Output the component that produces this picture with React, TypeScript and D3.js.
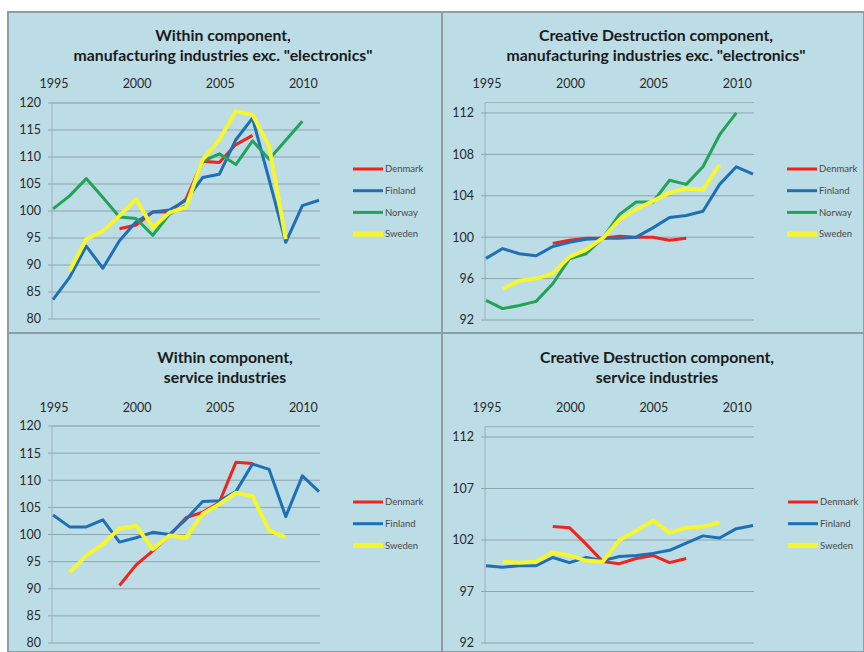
import * as d3 from 'd3';
import React, { useEffect, useRef } from 'react';

const years = d3.range(1995, 2012);
const yearTicks = [1995, 2000, 2005, 2010];

// Within component, manufacturing exc. electronics
const dkWithinMfg = [null, null, null, null, 96.7, 97.4, 99.8, 99.8, 102.2, 109.2, 109.0, 112.3, 114.0, null, null, null, null];
const fiWithinMfg = [83.6, 87.7, 93.5, 89.4, 94.5, 98.0, 99.8, 100.2, 102.0, 106.2, 106.8, 113.2, 117.2, 105.8, 94.2, 101.0, 102.0];
const noWithinMfg = [100.4, 102.8, 106.0, 102.5, 98.9, 98.6, 95.5, 99.4, 101.0, 109.2, 110.6, 108.6, 113.0, 109.6, 113.1, 116.6, null];
const seWithinMfg = [null, 88.9, 94.8, 96.3, 99.1, 102.2, 96.9, 99.7, 100.7, 109.5, 113.2, 118.5, 117.8, 112.0, 94.8, null, null];

// Creative destruction component, manufacturing exc. electronics
const dkCdMfg = [null, null, null, null, 99.4, 99.7, 99.9, 99.9, 100.1, 100.0, 100.0, 99.7, 99.9, null, null, null, null];
const fiCdMfg = [97.95, 98.9, 98.4, 98.2, 99.1, 99.5, 99.8, 99.9, 99.9, 100.0, 100.9, 101.9, 102.1, 102.5, 105.1, 106.8, 106.1];
const noCdMfg = [93.9, 93.1, 93.4, 93.8, 95.5, 97.9, 98.4, 99.9, 102.2, 103.4, 103.4, 105.5, 105.1, 106.8, 109.9, 112.0, null];
const seCdMfg = [null, 95.0, 95.8, 96.0, 96.5, 98.1, 98.8, 99.9, 101.7, 102.7, 103.5, 104.3, 104.7, 104.6, 107.0, null, null];

// Within component, services
const dkWithinSrv = [null, null, null, null, 90.6, 94.4, 97.0, 99.8, 103.1, 104.1, 105.9, 113.3, 113.1, null, null, null, null];
const fiWithinSrv = [103.6, 101.4, 101.4, 102.7, 98.6, 99.4, 100.4, 100.0, 102.8, 106.1, 106.2, 107.9, 113.0, 112.0, 103.3, 110.8, 107.9];
const seWithinSrv = [null, 93.0, 96.1, 98.2, 101.1, 101.6, 97.3, 99.8, 99.4, 103.8, 105.6, 107.7, 107.1, 100.7, 99.5, null, null];

// Creative destruction component, services
const dkCdSrv = [null, null, null, null, 103.3, 103.2, 101.6, 99.9, 99.7, 100.2, 100.5, 99.8, 100.2, null, null, null, null];
const fiCdSrv = [99.5, 99.35, 99.5, 99.5, 100.3, 99.8, 100.3, 100.0, 100.4, 100.5, 100.7, 101.0, 101.7, 102.4, 102.2, 103.1, 103.4];
const seCdSrv = [null, 99.9, 99.8, 99.9, 100.8, 100.5, 100.0, 99.9, 102.0, 102.9, 103.9, 102.7, 103.2, 103.3, 103.7, null, null];

const ticksA = [80, 85, 90, 95, 100, 105, 110, 115, 120];
const ticksB = [92, 96, 100, 104, 108, 112];
const ticksC = [92, 97, 102, 107, 112];

const colors: Record<string, string> = {
  Denmark: '#f0241c',
  Finland: '#1f6fb5',
  Norway: '#22a356',
  Sweden: '#f6f630',
};

const panels = [
  {
    title: ['Within component,', 'manufacturing industries exc. "electronics"'],
    series: [['Denmark', dkWithinMfg], ['Finland', fiWithinMfg], ['Norway', noWithinMfg], ['Sweden', seWithinMfg]],
    yDomain: [80, 120], ticks: ticksA,
    box: [8, 12, 442, 333], x0: 53, x1: 319, yBot: 319, yTop: 103,
    titleX: 223, titleY: 35, yearY: 84, labelX: 41, legX: 353, legY: 169,
  },
  {
    title: ['Creative Destruction component,', 'manufacturing industries exc. "electronics"'],
    series: [['Denmark', dkCdMfg], ['Finland', fiCdMfg], ['Norway', noCdMfg], ['Sweden', seCdMfg]],
    yDomain: [92, 113], ticks: ticksB,
    box: [442, 12, 864, 333], x0: 486, x1: 753, yBot: 320, yTop: 102.6,
    titleX: 656, titleY: 35, yearY: 84, labelX: 474, legX: 787, legY: 169,
  },
  {
    title: ['Within component,', 'service industries'],
    series: [['Denmark', dkWithinSrv], ['Finland', fiWithinSrv], ['Sweden', seWithinSrv]],
    yDomain: [80, 120], ticks: ticksA,
    box: [8, 333, 442, 652], x0: 53, x1: 319, yBot: 643, yTop: 426,
    titleX: 225, titleY: 357, yearY: 408, labelX: 41, legX: 353, legY: 502,
  },
  {
    title: ['Creative Destruction component,', 'service industries'],
    series: [['Denmark', dkCdSrv], ['Finland', fiCdSrv], ['Sweden', seCdSrv]],
    yDomain: [92, 113], ticks: ticksC,
    box: [442, 333, 864, 652], x0: 486, x1: 753, yBot: 643, yTop: 426.7,
    titleX: 657, titleY: 357, yearY: 408, labelX: 474, legX: 788, legY: 502,
  },
];

const font = 'Lato, "Open Sans", sans-serif';

const App = () => {
  const svgRef = useRef(null);

  useEffect(() => {
    const svg = d3.select(svgRef.current);
    svg.selectAll('*').remove();

    svg.append('rect').attr('width', 864).attr('height', 652).attr('fill', '#ffffff');

    panels.forEach((p) => {
      const [bx0, by0, bx1, by1] = p.box;
      const g = svg.append('g');

      g.append('rect')
        .attr('x', bx0)
        .attr('y', by0)
        .attr('width', bx1 - bx0)
        .attr('height', by1 - by0)
        .attr('fill', '#bcdce6')
        .attr('stroke', '#8d9ea5')
        .attr('stroke-width', 2);

      const x = d3.scaleLinear().domain([1995, 2011]).range([p.x0, p.x1]);
      const y = d3.scaleLinear().domain(p.yDomain).range([p.yBot, p.yTop]);

      // title
      p.title.forEach((t, i) => {
        g.append('text')
          .attr('x', p.titleX)
          .attr('y', p.titleY + i * 20)
          .attr('dy', '0.35em')
          .attr('text-anchor', 'middle')
          .attr('font-family', font)
          .attr('font-weight', 'bold')
          .attr('font-size', 15.8)
          .attr('fill', '#1b1b1b')
          .text(t);
      });

      // gridlines
      g.append('g')
        .selectAll('line')
        .data(p.ticks)
        .enter()
        .append('line')
        .attr('x1', x(1995) - 5)
        .attr('x2', x(2011) + 1)
        .attr('y1', (d) => y(d))
        .attr('y2', (d) => y(d))
        .attr('stroke', '#8ea4ad')
        .attr('stroke-width', 1);

      // axes lines
      g.append('line')
        .attr('x1', x(1995) - 1)
        .attr('x2', x(2011) + 1)
        .attr('y1', y(p.yDomain[1]))
        .attr('y2', y(p.yDomain[1]))
        .attr('stroke', '#9fb2ba')
        .attr('stroke-width', 1);
      g.append('line')
        .attr('x1', x(1995) - 1)
        .attr('x2', x(1995) - 1)
        .attr('y1', y(p.yDomain[0]))
        .attr('y2', y(p.yDomain[1]))
        .attr('stroke', '#9fb2ba')
        .attr('stroke-width', 1);

      // y labels
      g.append('g')
        .selectAll('text')
        .data(p.ticks)
        .enter()
        .append('text')
        .attr('x', p.labelX)
        .attr('y', (d) => y(d))
        .attr('dy', '0.35em')
        .attr('text-anchor', 'end')
        .attr('font-family', font)
        .attr('font-size', 12.5)
        .attr('fill', '#2b2b2b')
        .text((d) => d);

      // year labels
      g.append('g')
        .selectAll('text')
        .data(yearTicks)
        .enter()
        .append('text')
        .attr('x', (d) => x(d) + 1)
        .attr('y', p.yearY)
        .attr('dy', '0.35em')
        .attr('text-anchor', 'middle')
        .attr('font-family', font)
        .attr('font-size', 12.5)
        .attr('fill', '#2b2b2b')
        .text((d) => d);

      // lines
      const line = d3
        .line<number | null>()
        .defined((d) => d !== null)
        .x((d, i) => x(years[i]))
        .y((d) => y(d as number));

      p.series.forEach(([name, vals]) => {
        g.append('path')
          .datum(vals as (number | null)[])
          .attr('d', line)
          .attr('fill', 'none')
          .attr('stroke', colors[name as string])
          .attr('stroke-width', name === 'Sweden' ? 4 : 3)
          .attr('stroke-linejoin', 'round');
      });

      // legend
      p.series.forEach(([name], i) => {
        const ly = p.legY + i * 21.7;
        g.append('line')
          .attr('x1', p.legX)
          .attr('x2', p.legX + 30)
          .attr('y1', ly)
          .attr('y2', ly)
          .attr('stroke', colors[name as string])
          .attr('stroke-width', name === 'Sweden' ? 5 : 3);
        g.append('text')
          .attr('x', p.legX + 32)
          .attr('y', ly)
          .attr('dy', '0.35em')
          .attr('font-family', font)
          .attr('font-size', 9.5)
          .attr('fill', '#4a4a4a')
          .text(name as string);
      });
    });
  }, []);

  return (
    <svg
      ref={svgRef}
      width={864}
      height={652}
      style={{ position: 'absolute', left: 0, top: 0, display: 'block' }}
    />
  );
};

export default App;
